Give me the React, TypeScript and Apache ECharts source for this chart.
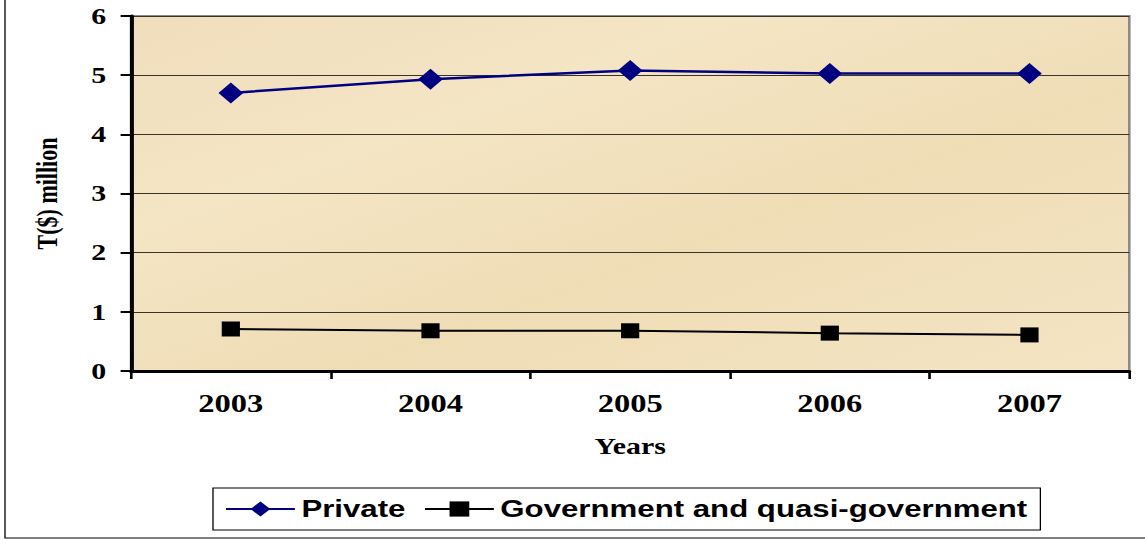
import React, { useEffect, useRef } from "react";
import * as echarts from "echarts";

const years = ["2003", "2004", "2005", "2006", "2007"];
const privateValues = [4.7, 4.93, 5.08, 5.03, 5.03];
const govValues = [0.71, 0.68, 0.68, 0.64, 0.61];
const seriesNames = ["Private", "Government and quasi-government"];

const STRETCH = 1.3;
const W = Math.round(1145 / STRETCH);

export default function App() {
  const ref = useRef<HTMLDivElement>(null);
  useEffect(() => {
    document.body.style.margin = "0";
    const chart = echarts.init(ref.current!, null, { renderer: "svg" });
    const serif = "'Liberation Serif', 'Times New Roman', serif";
    const sx = (v: number) => v / STRETCH;
    chart.setOption({
      animation: false,
      backgroundColor: "#ffffff",
      graphic: [
        {
          type: "rect",
          shape: { x: sx(5), y: -5, width: sx(1150), height: 543 },
          style: { fill: "none", stroke: "#000", lineWidth: 1 },
          z: 0,
        },
      ],
      grid: {
        left: sx(131),
        right: sx(1145 - 1129),
        top: 16,
        bottom: 169,
        show: true,
        backgroundColor: new echarts.graphic.LinearGradient(0, 0, 1, 1, [
          { offset: 0, color: "#F0DDBC" },
          { offset: 0.3, color: "#F4E5C4" },
          { offset: 0.6, color: "#EFDDB6" },
          { offset: 1, color: "#F4E4C3" },
        ]),
        borderColor: "#8a8a8a",
        borderWidth: 2,
      },
      legend: {
        left: sx(213),
        top: 488,
        data: seriesNames,
        borderColor: "#000",
        borderWidth: 1,
        padding: [9, 10, 9, 9],
        itemWidth: 53,
        itemHeight: 19,
        itemGap: 14,
        textStyle: {
          fontFamily: "'Liberation Sans', Arial, sans-serif",
          fontWeight: "bold",
          fontSize: 24,
          color: "#000",
        },
      },
      xAxis: {
        type: "category",
        data: years,
        boundaryGap: true,
        name: "Years",
        nameLocation: "middle",
        nameGap: 64,
        nameTextStyle: { fontFamily: serif, fontWeight: "bold", fontSize: 23, color: "#000" },
        axisLine: { show: true, lineStyle: { color: "#000", width: 3 } },
        axisTick: { show: true, inside: false, length: 8, lineStyle: { color: "#000", width: 2 } },
        axisLabel: { margin: 20, fontFamily: serif, fontWeight: "bold", fontSize: 25, color: "#000" },
        splitLine: { show: false },
      },
      yAxis: {
        type: "value",
        min: 0,
        max: 6,
        interval: 1,
        name: "T($) million",
        nameLocation: "middle",
        nameRotate: 90,
        nameGap: 53,
        nameTextStyle: { fontFamily: serif, fontWeight: "bold", fontSize: 22, color: "#000" },
        axisLine: { show: true, lineStyle: { color: "#000", width: 3 } },
        axisTick: { show: true, inside: false, length: 8, lineStyle: { color: "#000", width: 2 } },
        axisLabel: { margin: 19, fontFamily: serif, fontWeight: "bold", fontSize: 23, color: "#000" },
        splitLine: { show: true, lineStyle: { color: "#3a3428", width: 1 } },
      },
      series: [
        {
          name: seriesNames[0],
          type: "line",
          data: privateValues,
          symbol: "diamond",
          symbolSize: [19, 21],
          lineStyle: { color: "#000080", width: 2.5 },
          itemStyle: { color: "#000080" },
        },
        {
          name: seriesNames[1],
          type: "line",
          data: govValues,
          symbol: "rect",
          symbolSize: [14, 15],
          lineStyle: { color: "#000", width: 2 },
          itemStyle: { color: "#000" },
        },
      ],
    });
    return () => chart.dispose();
  }, []);
  return (
    <div style={{ width: 1145, height: 540, overflow: "hidden" }}>
      <div
        ref={ref}
        style={{ width: W, height: 540, transform: `scaleX(${STRETCH})`, transformOrigin: "0 0" }}
      />
    </div>
  );
}
